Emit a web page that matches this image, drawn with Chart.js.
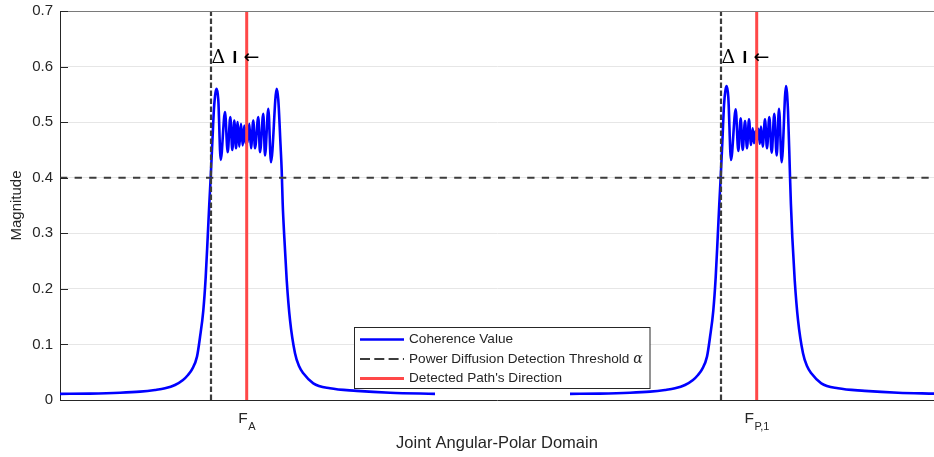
<!DOCTYPE html>
<html>
<head>
<meta charset="utf-8">
<script src="https://cdn.jsdelivr.net/npm/chart.js@4.4.1/dist/chart.umd.min.js"></script>
<style>
  html, body { margin: 0; padding: 0; background: #fff; }
  #wrap { width: 934px; height: 457px; }
</style>
</head>
<body>
<div id="wrap"><canvas id="myChart" width="934" height="457"></canvas></div>
<script>
// coherence around the first cluster (F_A)
const idxA = [0, 30, 60, 80, 95, 105, 115, 123, 128, 132,
  137, 140, 143.3, 145.7, 147.7, 149.3, 150.7, 152.5, 154, 155.5,
  156.7, 158.3, 160.7, 165, 167.7, 170.3, 172.3, 174.3, 176, 177.7,
  179.3, 181, 182.7, 184.3, 185.5, 186.5, 187.5, 189.3, 191, 193.3,
  195, 198.3, 200, 203.3, 205, 208.3, 211, 216.7, 218.3, 220.5,
  221.7, 222.7, 224.3, 226.7, 230, 235, 239, 243.3, 253.3, 270,
  296.7, 330, 375];
const magA = [0.011, 0.0115, 0.013, 0.015, 0.018, 0.021, 0.027, 0.036, 0.045, 0.055,
  0.078, 0.113, 0.161, 0.221, 0.293, 0.353, 0.401, 0.47, 0.525, 0.553,
  0.560, 0.54, 0.432, 0.518, 0.446, 0.509, 0.45, 0.503, 0.453, 0.5,
  0.456, 0.497, 0.458, 0.494, 0.462, 0.49, 0.463, 0.497, 0.453, 0.503,
  0.453, 0.509, 0.446, 0.515, 0.44, 0.524, 0.428, 0.560, 0.54, 0.46,
  0.413, 0.353, 0.293, 0.216, 0.144, 0.084, 0.061, 0.048, 0.030, 0.021,
  0.0165, 0.013, 0.011];

// coherence around the second cluster (F_P,1)
const idxP = [510, 540, 570, 590, 605, 615, 625, 633, 638, 642,
  647, 650, 653.3, 655.7, 657.7, 659.3, 660.7, 662.5, 664, 665.5,
  666.7, 668.3, 671, 675.7, 678.3, 680.7, 682.7, 685, 687, 689,
  691, 692.7, 694, 695.5, 697, 698.5, 699.8, 701, 702.7, 705,
  707, 709.3, 711.7, 714.3, 716.7, 719, 721.7, 726, 728, 730,
  730.9, 732.3, 734.7, 738, 743, 747, 751.3, 761.3, 778, 804.7,
  838, 874];
const magP = [0.011, 0.0115, 0.013, 0.015, 0.018, 0.021, 0.027, 0.036, 0.045, 0.055,
  0.078, 0.113, 0.161, 0.221, 0.293, 0.353, 0.401, 0.47, 0.53, 0.558,
  0.565, 0.545, 0.432, 0.523, 0.448, 0.507, 0.45, 0.502, 0.453, 0.505,
  0.459, 0.489, 0.462, 0.484, 0.468, 0.488, 0.461, 0.492, 0.456, 0.505,
  0.453, 0.509, 0.445, 0.515, 0.44, 0.524, 0.428, 0.565, 0.52, 0.403,
  0.353, 0.293, 0.216, 0.144, 0.084, 0.061, 0.048, 0.030, 0.021, 0.0165,
  0.013, 0.0115];

const threshold = 0.4;
const thresholdCross = [151, 661];
const detectedDir = [186.7, 696.7];
const xTickLabels = [['F', 'A'], ['F', 'P,1']];
const legendLabels = ['Coherence Value', 'Power Diffusion Detection Threshold', "Detected Path's Direction"];
const xMax = 874;
const yMax = 0.7;

const FONT = "'Liberation Sans', Arial, Helvetica, sans-serif";
const INK = '#262626';

const coherence = idxA.map((x, i) => ({ x: x, y: magA[i] }))
  .concat([{ x: (idxA[idxA.length - 1] + idxP[0]) / 2, y: null }])
  .concat(idxP.map((x, i) => ({ x: x, y: magP[i] })));

function vline(x) { return [{ x: x, y: 0 }, { x: x, y: yMax }]; }

const BLUE = '#0000ff', GREY = '#3c3c3c', RED = '#ff4848';

const datasets = [
  { label: legendLabels[0], data: coherence, borderColor: BLUE, borderWidth: 2.6,
    cubicInterpolationMode: 'monotone', spanGaps: false, order: 3 },
  { label: legendLabels[1], data: [{ x: 0, y: threshold }, { x: xMax, y: threshold }],
    borderColor: GREY, borderWidth: 2, borderDash: [7.3, 7.3], order: 2 }
];
thresholdCross.forEach(x => datasets.push({ data: vline(x), borderColor: GREY, borderWidth: 2.2,
  borderDash: [5.5, 2.5], order: 2 }));
detectedDir.forEach(x => datasets.push({ label: legendLabels[2], data: vline(x), borderColor: RED,
  borderWidth: 3, order: 1 }));

const decor = {
  id: 'decor',
  afterDraw(chart) {
    const ctx = chart.ctx, a = chart.chartArea;
    const xs = chart.scales.x, ys = chart.scales.y;
    ctx.save();
    // top box edge
    ctx.strokeStyle = '#7a7a7a';
    ctx.lineWidth = 1;
    ctx.beginPath(); ctx.moveTo(a.left, a.top + 0.5); ctx.lineTo(a.right, a.top + 0.5); ctx.stroke();
    // inward y ticks
    ctx.strokeStyle = INK;
    ys.ticks.forEach(t => {
      const y = Math.round(ys.getPixelForValue(t.value)) + 0.5;
      ctx.beginPath(); ctx.moveTo(a.left, y); ctx.lineTo(a.left + 8, y); ctx.stroke();
    });
    // x tick labels with subscripts
    ctx.fillStyle = INK;
    ctx.textBaseline = 'alphabetic';
    detectedDir.forEach((v, i) => {
      const px = xs.getPixelForValue(v);
      const [main, sub] = xTickLabels[i];
      ctx.font = '15.5px ' + FONT;
      const w1 = ctx.measureText(main).width;
      ctx.font = '11px ' + FONT;
      const w2 = ctx.measureText(sub).width;
      const x0 = px - (w1 + w2) / 2;
      ctx.font = '15.5px ' + FONT;
      ctx.fillText(main, x0, a.bottom + 23.3);
      ctx.font = '11px ' + FONT;
      ctx.fillText(sub, x0 + w1 + 0.5, a.bottom + 30);
    });
    // "Δ I ←" annotations next to each threshold crossing
    ctx.fillStyle = '#000';
    thresholdCross.forEach(v => {
      const px = xs.getPixelForValue(v);
      const by = ys.getPixelForValue(0.606);
      ctx.textBaseline = 'alphabetic';
      ctx.font = "19px 'DejaVu Serif', serif";
      ctx.fillText('Δ', px + 0.5, by);
      ctx.font = "bold 17px " + FONT;
      ctx.fillText('I', px + 21.5, by);
      ctx.textBaseline = 'middle';
      ctx.font = "19px 'DejaVu Sans', sans-serif";
      ctx.fillText('←', px + 32.5, by - 5);
    });
    // legend box
    const lx = 354.5, ly = 327.5, lw = 295.5, lh = 61;
    ctx.fillStyle = '#fff';
    ctx.fillRect(lx, ly, lw, lh);
    ctx.strokeStyle = INK;
    ctx.lineWidth = 1;
    ctx.strokeRect(lx, ly, lw, lh);
    const rows = [ly + 12, ly + 31.5, ly + 51];
    const samples = [
      { c: BLUE, w: 2.6, d: [] },
      { c: GREY, w: 2, d: [10, 4.3] },
      { c: RED, w: 3, d: [] }
    ];
    ctx.textBaseline = 'middle';
    rows.forEach((y, i) => {
      ctx.strokeStyle = samples[i].c;
      ctx.lineWidth = samples[i].w;
      ctx.setLineDash(samples[i].d);
      ctx.beginPath(); ctx.moveTo(lx + 5.5, y); ctx.lineTo(lx + 49.5, y); ctx.stroke();
      ctx.setLineDash([]);
      ctx.fillStyle = INK;
      ctx.font = '13.6px ' + FONT;
      ctx.fillText(legendLabels[i], lx + 54.5, y);
      if (i === 1) {
        const w = ctx.measureText(legendLabels[i] + ' ').width;
        ctx.font = "italic 14px 'DejaVu Serif', serif";
        ctx.fillText('α', lx + 54.5 + w, y);
      }
    });
    ctx.restore();
  }
};

const ctx = document.getElementById('myChart').getContext('2d');
const chart = new Chart(ctx, {
  type: 'line',
  data: { datasets: datasets },
  options: {
    responsive: false,
    devicePixelRatio: 1,
    animation: false,
    elements: { point: { radius: 0, hoverRadius: 0 }, line: { tension: 0 } },
    layout: { padding: { top: 11, right: 0, left: 0, bottom: 0 } },
    plugins: { legend: { display: false }, tooltip: { enabled: false } },
    events: [],
    scales: {
      x: {
        type: 'linear', min: 0, max: xMax,
        ticks: { display: false },
        grid: { display: false },
        border: { display: true, color: INK, width: 1 },
        title: { display: true, text: 'Joint Angular-Polar Domain', color: INK,
          font: { family: FONT, size: 16.5 }, padding: { top: 0, bottom: 4 } },
        afterFit(scale) { scale.height = 57; scale.paddingLeft = 0; scale.paddingRight = 0; }
      },
      y: {
        min: 0, max: yMax,
        ticks: { stepSize: 0.1, color: INK, padding: 7, font: { family: FONT, size: 15 },
          callback: v => (v === 0 ? '0' : v.toFixed(1)) },
        grid: { color: '#e6e6e6', drawTicks: false },
        border: { display: true, color: INK, width: 1 },
        title: { display: true, text: 'Magnitude', color: INK,
          font: { family: FONT, size: 15 }, padding: { top: 8, bottom: 0 } },
        afterFit(scale) { scale.width = 60; scale.paddingTop = 0; scale.paddingBottom = 0; }
      }
    }
  },
  plugins: [decor]
});
</script>
</body>
</html>
